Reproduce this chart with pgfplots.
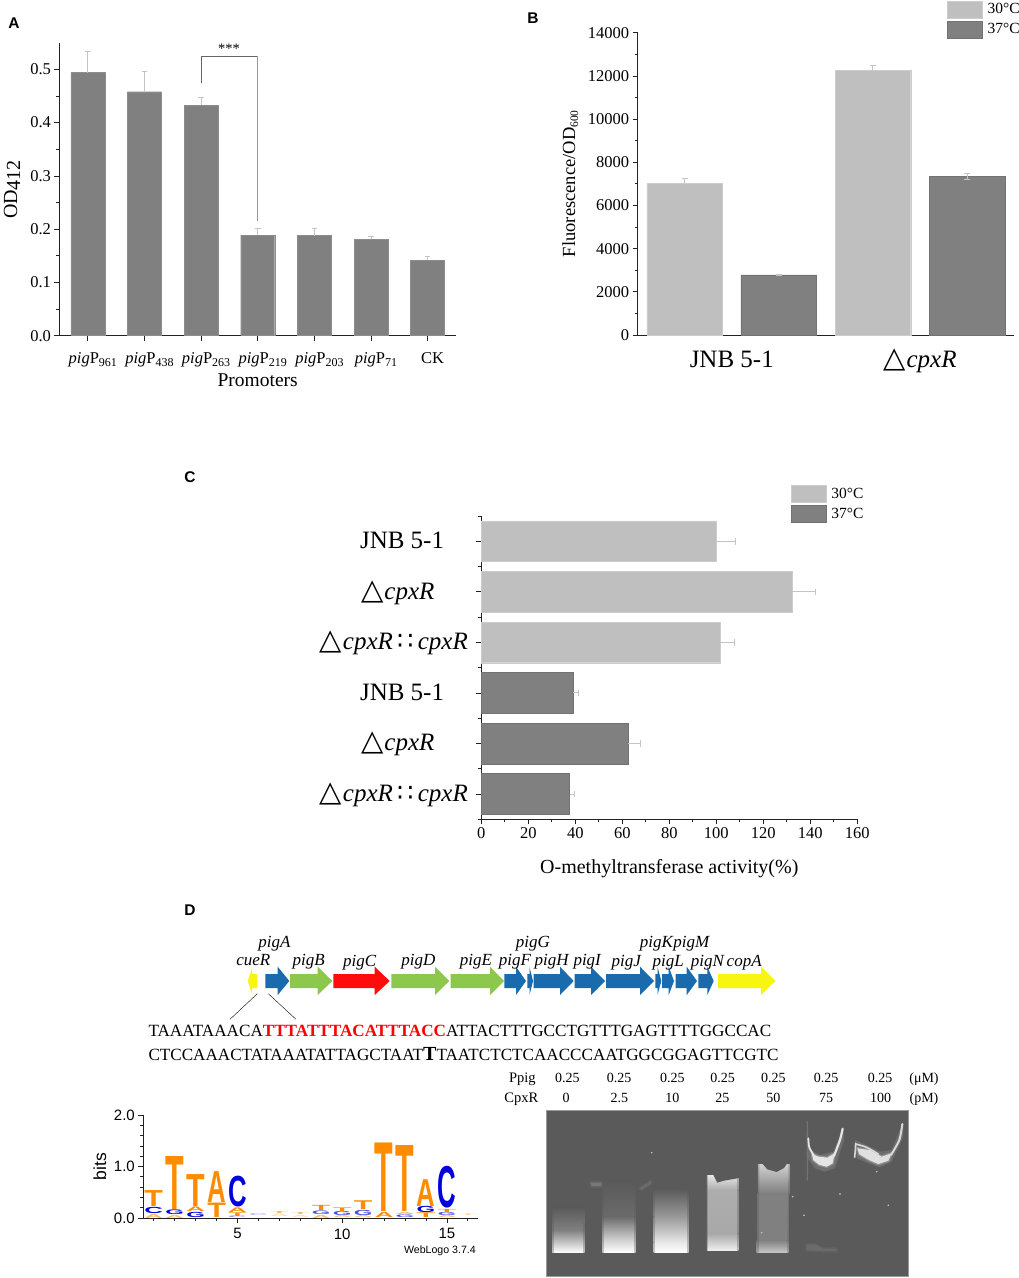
\documentclass[border=0pt]{standalone}
\usepackage{fontspec}
\setmainfont{Liberation Serif}
\setsansfont{Liberation Sans}
\newfontfamily\dv{DejaVu Sans}
\usepackage{pgfplots}
\pgfplotsset{compat=1.18}

\definecolor{lightbar}{HTML}{BFBFBF}
\definecolor{darkbar}{HTML}{808080}
\definecolor{errgray}{HTML}{C4C4C4}
\definecolor{axisc}{HTML}{222222}
\definecolor{geneblue}{HTML}{1A6AAE}
\definecolor{genegreen}{HTML}{8CC84B}
\definecolor{genered}{HTML}{FF0C0C}
\definecolor{geneyellow}{HTML}{F8F510}
\definecolor{logoT}{HTML}{FF8C00}
\definecolor{logoC}{HTML}{0000DD}
\definecolor{gelbg}{HTML}{5A5A5A}

\newcommand\fs[1]{\fontsize{#1}{#1}\selectfont}
\newcommand\pg[1]{\textit{pig}P\raisebox{-3pt}{\fs{12}#1}}
\newcommand\tri{\scalebox{1.16}{\dv △}\hspace*{1pt}}
\newcommand\dl{\tri\textit{cpxR}}
\newcommand\dlc{\tri\textit{cpxR}\hspace*{4.5pt}{\dv ∷}\hspace*{4.5pt}\textit{cpxR}}

\pgfplotsset{
  panel/.style={
    scale only axis, clip=false,
    axis x line*=bottom, axis y line*=left,
    axis line style={axisc,-,line width=0.8pt},
    tick align=outside, tick style={axisc,line width=0.7pt},
    major tick length=5pt, minor tick length=3pt,
    /pgf/number format/assume math mode=true,
    tick label style={font=\fs{16.5}},
  },
  templegend/.style={
    legend style={draw=none,fill=none,at={#1},anchor=north west,inner sep=0pt,outer sep=0pt,
      row sep=3pt,font=\fs{15.5}},
    legend cell align=left,
    legend image code/.code={\draw[##1] (0pt,-8.3pt) rectangle (35pt,8.3pt);},
  },
  vbar/.style={ybar,bar shift=0pt,bar width=#1,
    error bars/y dir=plus,error bars/y explicit,
    error bars/error bar style={errgray,line width=0.9pt},
    error bars/error mark options={rotate=90,errgray,mark size=2.8pt,line width=0.8pt}},
  hbar/.style={xbar,bar shift=0pt,bar width=40.7pt,
    error bars/x dir=plus,error bars/x explicit,
    error bars/error mark=|,
    error bars/error bar style={errgray,line width=0.9pt},
    error bars/error mark options={errgray,mark size=3.3pt,line width=0.8pt}},
}

% one stretched logo letter: position, bottom, height (bits), letter, colour
\newlength\logoh
\setlength\logoh{51.5pt}
\newcommand\logo[5]{\node[anchor=south,inner sep=0pt,outer sep=0pt,text=#5] at (axis cs:#1,#2)
  {\resizebox{18.6pt}{#3\logoh}{\sffamily\bfseries #4}};}

% gene arrow: colour, start, head start, tip
\newcommand\gene[4]{\addplot[fill=#1,draw=none] coordinates
  {(#2,974)(#3,974)(#3,966.7)(#4,981)(#3,995)(#3,988)(#2,988)} --cycle;}
\newcommand\gname[3]{\node[anchor=base,inner sep=0pt,font={\fs{17}\itshape}] at (axis cs:#1,#2) {#3};}
\newcommand\txt[4][16]{\node[anchor=base,inner sep=0pt,font=\fs{#1}] at (axis cs:#2,#3) {#4};}

% gel areas: brightness top, middle; x0, x1; y0, y1; brightness bottom
\newcommand\lane[7]{\addplot[draw=none,top color=white!#1!black,middle color=white!#2!black,bottom color=white!#7!black]
  coordinates {(#3,#5)(#4,#5)(#4,#6)(#3,#6)} --cycle;}
\newcommand\band[3]{\addplot[fill=#1,draw=#1,draw opacity=0.3,line width=#2,line join=round] coordinates {#3} --cycle;}
\newcommand\haze[2]{\addplot[fill=white,fill opacity=#1,draw=none] coordinates {#2} --cycle;}
\newcommand\stroke[3]{\addplot[#1,line width=#2,line cap=round,line join=round,smooth] coordinates {#3};}

\begin{document}
\begin{tikzpicture}
\path[use as bounding box] (0pt,0pt) rectangle (1019pt,1278pt);

%% A
\begin{axis}[panel,at={(59.5pt,942.3pt)},anchor=south west,width=396.5pt,height=293pt,
  ybar,
  xmin=-0.5,xmax=6.5,ymin=0,ymax=0.55,
  xtick={0,...,6},
  xticklabels={\pg{961},\pg{438},\pg{263},\pg{219},\pg{203},\pg{71},CK},
  xticklabel style={font=\fs{16.5},anchor=base,yshift=-22.5pt,xshift=5pt},
  ytick={0,0.1,...,0.5},minor y tick num=1,
  /pgf/number format/fixed,/pgf/number format/precision=1,/pgf/number format/zerofill,
]
\addplot[vbar=34pt,fill=darkbar,draw=black!45] coordinates {
 (0,0.494) +- (0,0.039)
 (1,0.458) +- (0,0.039)
 (2,0.433) +- (0,0.015)
 (3,0.189) +- (0,0.012)
 (4,0.188) +- (0,0.013)
 (5,0.181) +- (0,0.005)
 (6,0.142) +- (0,0.006)
};
\addplot[black!60,sharp plot] coordinates {(2,0.4735)(2,0.5247)(3,0.5247)};
\addplot[black!40,line width=1pt,sharp plot] coordinates {(3,0.5247)(3,0.2157)};
\end{axis}

%% B
\begin{axis}[panel,at={(637.7pt,943pt)},anchor=south west,width=376.3pt,height=302.3pt,
  templegend={(0.8227,1.105)},
  xmin=-0.5,xmax=3.5,ymin=0,ymax=14000,
  xtick={0.5,2.5},xticklabels={JNB 5-1,\dl},
  xticklabel style={font=\fs{25},anchor=base,yshift=-28pt},
  x tick style={draw=none},
  ytick={0,2000,...,14000},minor y tick num=1,
  scaled y ticks=false,
  /pgf/number format/set thousands separator={},
]
\addplot[vbar=75.7pt,fill=lightbar,draw=black!20] coordinates {
 (0,7024) +- (0,220)
 (2,12243) +- (0,260)
};
\addplot[vbar=75.7pt,error bars/y dir=both,fill=darkbar,draw=black!55] coordinates {
 (1,2779) +- (0,30)
 (3,7333) +- (0,150)
};
\legend{\hspace*{3pt}30°C,\hspace*{3pt}37°C}
\end{axis}

%% C
\begin{axis}[panel,at={(481.3pt,458.7pt)},anchor=south west,width=376pt,height=303.3pt,
  templegend={(0.8237,1.101)},
  xmin=0,xmax=160,ymin=-0.5,ymax=5.5,y dir=reverse,
  xtick={0,20,...,160},minor x tick num=1,
  xticklabel style={font=\fs{16.5}},
  ytick={0,...,5},minor ytick={-0.5,0.5,...,5.5},
  yticklabels={JNB 5-1\hspace*{23.7pt},\dl\hspace*{33.4pt},\dlc,JNB 5-1\hspace*{23.7pt},\dl\hspace*{33.4pt},\dlc},
  yticklabel style={font=\fs{25},anchor=base east,yshift=-7.5pt,xshift=-5pt},
]
\addplot[hbar,fill=lightbar,draw=black!20] coordinates {
 (100.1,0) +- (8,0)
 (132.3,1) +- (9.8,0)
 (101.7,2) +- (6.1,0)
};
\addplot[hbar,fill=darkbar,draw=black!55] coordinates {
 (39,3) +- (2.3,0)
 (62.5,4) +- (5.2,0)
 (37.6,5) +- (2.1,0)
};
\legend{\hspace*{3pt}30°C,\hspace*{3pt}37°C}
\end{axis}

%% D, sequence logo
\begin{axis}[panel,at={(143.3pt,60pt)},anchor=south west,width=335pt,height=103pt,
  xmin=0.5,xmax=16.5,ymin=0,ymax=2,
  xtick={5,10,15},xticklabels={5,10,15},minor xtick={1,...,16},
  ytick={0,1,2},minor y tick num=4,
  tick label style={font=\sffamily\fs{15}},
  xticklabel style={yshift=-2pt},
  /pgf/number format/fixed,/pgf/number format/precision=1,/pgf/number format/zerofill,
]
\logo{1}{0}{0.08}{A}{logoT!60}
\logo{1}{0.08}{0.12}{C}{logoC}
\logo{1}{0.22}{0.31}{T}{logoT}
\logo{2}{0}{0.06}{A}{logoT!60}
\logo{2}{0.06}{0.09}{G}{logoC}
\logo{2}{0.17}{1.03}{T}{logoT}
\logo{3}{0}{0.1}{G}{logoC}
\logo{3}{0.12}{0.09}{A}{logoT}
\logo{3}{0.22}{0.62}{T}{logoT}
\logo{4}{0}{0.28}{T}{logoT}
\logo{4}{0.3}{0.6}{A}{logoT}
\logo{5}{0}{0.03}{C}{logoC!50}
\logo{5}{0.03}{0.07}{T}{logoT}
\logo{5}{0.11}{0.09}{A}{logoT}
\logo{5}{0.22}{0.59}{C}{logoC}
\logo{6}{0.04}{0.04}{C}{logoC!30}
\logo{7}{0.08}{0.04}{T}{logoT!60}
\logo{7}{0.02}{0.05}{A}{logoT!30}
\logo{8}{0.06}{0.04}{T}{logoT!60}
\logo{8}{0.01}{0.04}{A}{logoT!30}
\logo{9}{0}{0.06}{A}{logoT!60}
\logo{9}{0.07}{0.07}{G}{logoC!70}
\logo{9}{0.15}{0.1}{T}{logoT}
\logo{10}{0}{0.04}{A}{logoT!60}
\logo{10}{0.04}{0.08}{G}{logoC!70}
\logo{10}{0.13}{0.07}{T}{logoT}
\logo{11}{0}{0.04}{A}{logoT!60}
\logo{11}{0.05}{0.1}{G}{logoC!70}
\logo{11}{0.17}{0.17}{T}{logoT}
\logo{12}{0}{0.1}{A}{logoT}
\logo{12}{0.12}{1.33}{T}{logoT}
\logo{13}{0}{0.05}{G}{logoC!70}
\logo{13}{0.06}{0.04}{A}{logoT!70}
\logo{13}{0.12}{1.28}{T}{logoT}
\logo{14}{0}{0.09}{T}{logoT}
\logo{14}{0.1}{0.12}{G}{logoC}
\logo{14}{0.23}{0.52}{A}{logoT}
\logo{15}{0}{0.04}{A}{logoT!60}
\logo{15}{0.04}{0.06}{G}{logoC!70}
\logo{15}{0.11}{0.06}{T}{logoT}
\logo{15}{0.19}{0.8}{C}{logoC}
\logo{16}{0.05}{0.03}{T}{logoT!40}
\end{axis}

%% D, gel
\begin{axis}[scale only axis,clip=true,at={(546pt,2pt)},anchor=south west,width=362.3pt,height=166pt,
  xmin=168,xmax=1255,ymin=150,ymax=648,y dir=reverse,
  xtick=\empty,ytick=\empty,axis line style={black!40},
  axis background/.style={fill=gelbg},
]
% lane 1
\lane{35}{38}{186}{284}{440}{510}{50}
\lane{50}{100}{186}{284}{510}{578}{100}
% lane 2
\lane{35}{38}{337}{437}{360}{470}{42}
\lane{42}{56}{337}{437}{470}{540}{82}
\lane{82}{100}{337}{437}{540}{578}{100}
\band{white!47!black}{3pt}{(302,368)(335,368)(335,378)(305,378)}
\band{white!42!black}{2pt}{(448,385)(482,362)(485,370)(455,390)}
% lane 3
\lane{35}{48}{491}{596}{385}{470}{60}
\lane{60}{71}{491}{596}{470}{548}{91}
\lane{91}{100}{491}{596}{548}{578}{100}
% lane 4
\lane{90}{80}{651}{745}{345}{390}{68}
\lane{68}{62}{651}{745}{390}{520}{66}
\lane{66}{78}{651}{745}{520}{572}{94}
\addplot[fill=gelbg,draw=none] coordinates {(668,340)(682,368)(702,362)(748,354)(748,340)} --cycle;
% lane 5
\lane{82}{72}{804}{900}{312}{400}{50}
\lane{50}{46}{802}{896}{400}{540}{50}
\lane{50}{66}{800}{895}{540}{578}{78}
\addplot[fill=gelbg,draw=none] coordinates {(812,305)(832,328)(860,336)(882,324)(895,305)} --cycle;
% soft lane edges
\addplot[gelbg,opacity=0.35,line width=3pt] coordinates {(186,440)(186,578)};
\addplot[gelbg,opacity=0.35,line width=3pt] coordinates {(284,490)(284,578)};
\addplot[gelbg,opacity=0.35,line width=3pt] coordinates {(337,360)(337,578)};
\addplot[gelbg,opacity=0.35,line width=3pt] coordinates {(437,360)(437,578)};
\addplot[gelbg,opacity=0.35,line width=3pt] coordinates {(491,385)(491,578)};
\addplot[gelbg,opacity=0.35,line width=3pt] coordinates {(596,385)(596,578)};
\addplot[gelbg,opacity=0.35,line width=3pt] coordinates {(651,345)(651,572)};
\addplot[gelbg,opacity=0.35,line width=3pt] coordinates {(745,355)(745,572)};
\addplot[gelbg,opacity=0.35,line width=3pt] coordinates {(804,312)(802,578)};
\addplot[gelbg,opacity=0.35,line width=3pt] coordinates {(900,312)(896,578)};
% lane 6
\haze{0.12}{(950,220)(962,270)(990,285)(1030,275)(1060,200)(1062,240)(1035,325)(1005,335)(975,325)(950,290)}
\stroke{white!45!black}{1.2pt}{(952,185)(953,270)(952,360)}
\band{white!90!black}{2.5pt}{(966,282)(985,290)(1012,293)(1034,280)(1028,310)(1010,320)(987,314)(970,300)}
\stroke{white!90!black}{1.8pt}{(955,235)(958,262)(972,287)}
\stroke{white!90!black}{2.2pt}{(1058,206)(1050,240)(1032,288)}
\band{white!42!black}{3pt}{(950,553)(975,553)(1000,566)(1040,566)(1040,574)(950,572)}
% lane 7
\haze{0.12}{(1095,240)(1130,255)(1170,275)(1205,270)(1240,185)(1240,230)(1205,305)(1170,322)(1135,310)(1100,295)}
\band{white!88!black}{2.5pt}{(1102,265)(1140,270)(1175,290)(1205,280)(1195,302)(1165,312)(1137,300)(1108,283)}
\stroke{white!85!black}{1.6pt}{(1097,250)(1096,270)(1094,292)}
\stroke{white!85!black}{1.6pt}{(1097,252)(1130,262)(1165,282)}
\stroke{white!85!black}{2pt}{(1237,192)(1228,240)(1203,285)}
% specks
\addplot[only marks,mark=*,mark size=0.6pt,black!25] coordinates {(485,278)(815,518)(1050,402)(942,466)(1195,436)(1160,335)(908,410)};
\end{axis}

%% panel letters, gene map, free text (axis in reference pixels)
\begin{axis}[scale only axis,hide axis,clip=false,at={(0pt,0pt)},anchor=south west,width=1019pt,height=1278pt,
  xmin=0,xmax=1019,ymin=0,ymax=1278,y dir=reverse]
\gene{geneblue}{265.3}{277.7}{289.3}
\gene{genegreen}{290}{317.7}{332.3}
\gene{genered}{333.3}{374.7}{389.7}
\gene{genegreen}{391.3}{435}{449.3}
\gene{genegreen}{450.7}{490}{504}
\gene{geneblue}{504.3}{516}{526}
\gene{geneblue}{527.3}{529.5}{533}
\gene{geneblue}{533.7}{560}{573.7}
\gene{geneblue}{574.7}{591}{605}
\gene{geneblue}{606}{640}{654}
\gene{geneblue}{655.3}{657.5}{661.3}
\gene{geneblue}{662}{668.7}{674}
\gene{geneblue}{675.7}{686.7}{697}
\gene{geneblue}{698.3}{707.3}{713.7}
\gene{geneyellow}{718}{761}{775.3}
\addplot[fill=geneyellow,draw=none] coordinates {(257.3,974)(252,974)(252,968)(247.7,981)(252,994)(252,988)(257.3,988)} --cycle;
\addplot[black,sharp plot] coordinates {(257.3,993.7)(230,1019.3)};
\addplot[black,sharp plot] coordinates {(268.3,993.7)(296,1019.3)};
\gname{253.3}{965}{cueR}
\gname{274.5}{947.7}{pigA}
\gname{308.7}{965}{pigB}
\gname{359.7}{966}{pigC}
\gname{418.3}{965}{pigD}
\gname{476}{965}{pigE}
\gname{515}{965}{pigF}
\gname{532.8}{947.7}{pigG}
\gname{551.7}{965}{pigH}
\gname{587.2}{965}{pigI}
\gname{626.3}{966}{pigJ}
\gname{656.3}{947.7}{pigK}
\gname{691.3}{947.7}{pigM}
\gname{668.3}{966}{pigL}
\gname{707.5}{966}{pigN}
\gname{744.2}{966}{copA}
\node[anchor=base west,inner sep=0pt,font=\fs{17.14}] at (axis cs:148.3,1036.7)
  {TAAATAAACA\textcolor{red}{\textbf{TTTATTTACATTTACC}}ATTACTTTGCCTGTTTGAGTTTTGGCCAC};
\node[anchor=base west,inner sep=0pt,font=\fs{17.12}] at (axis cs:148.3,1060.7)
  {CTCCAAACTATAAATATTAGCTAAT{\fs{20}\textbf{T}}TAATCTCTCAACCCAATGGCGGAGTTCGTC};
% gel header
\txt[14.5]{522.3}{1082.7}{Ppig}
\txt[14.5]{521.3}{1102.3}{CpxR}
\txt[14]{567.3}{1082.7}{0.25}
\txt[14]{619}{1082.7}{0.25}
\txt[14]{672.3}{1082.7}{0.25}
\txt[14]{722.7}{1082.7}{0.25}
\txt[14]{773.3}{1082.7}{0.25}
\txt[14]{826}{1082.7}{0.25}
\txt[14]{880}{1082.7}{0.25}
\txt[14]{924}{1082.7}{(μM)}
\txt[14]{566}{1102.3}{0}
\txt[14]{619.3}{1102.3}{2.5}
\txt[14]{672.3}{1102.3}{10}
\txt[14]{722.3}{1102.3}{25}
\txt[14]{773.3}{1102.3}{50}
\txt[14]{826}{1102.3}{75}
\txt[14]{880.7}{1102.3}{100}
\txt[14]{924}{1102.3}{(pM)}
% axis titles
\txt[19.5]{257.7}{386}{Promoters}
\txt[20]{669.3}{873}{O-methyltransferase activity(\%)}
\node[anchor=base,rotate=90,inner sep=0pt,font=\fs{20}] at (axis cs:17,189.5) {OD\raisebox{-3pt}{412}};
\node[anchor=base,rotate=90,inner sep=0pt,font=\fs{18.5}] at (axis cs:575,183.7) {Fluorescence/OD\raisebox{-3pt}{\fs{11.5}600}};
\node[anchor=base,rotate=90,inner sep=0pt,font=\sffamily\fs{17.5}] at (axis cs:106,1166.7) {bits};
\txt[14.5]{229}{53}{***}
\node[anchor=base east,inner sep=0pt,font=\sffamily\fs{10.6}] at (axis cs:476,1253) {WebLogo 3.7.4};
% panel letters
\node[anchor=base,inner sep=0pt,font=\sffamily\bfseries\fs{15.5}] at (axis cs:14,28.3) {A};
\node[anchor=base,inner sep=0pt,font=\sffamily\bfseries\fs{15.5}] at (axis cs:533,23.3) {B};
\node[anchor=base,inner sep=0pt,font=\sffamily\bfseries\fs{15.5}] at (axis cs:190,482) {C};
\node[anchor=base,inner sep=0pt,font=\sffamily\bfseries\fs{15.5}] at (axis cs:190,915) {D};
\end{axis}
\end{tikzpicture}
\end{document}
